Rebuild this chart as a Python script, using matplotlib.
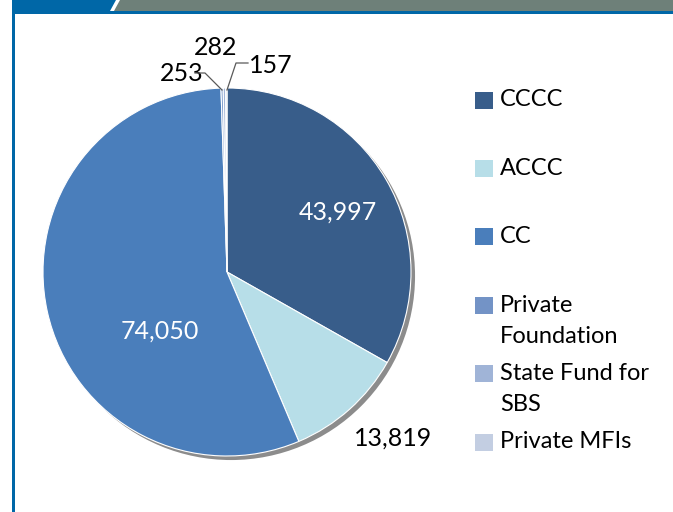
import matplotlib
matplotlib.use("Agg")
import matplotlib.pyplot as plt
from matplotlib.patches import Circle, Rectangle, Polygon
import numpy as np

categories = ["CCCC", "ACCC", "CC", "Private Foundation", "State Fund for SBS", "Private MFIs"]
legend_labels = ["CCCC", "ACCC", "CC", "Private\nFoundation", "State Fund for\nSBS", "Private MFIs"]
values = [43997, 13819, 74050, 253, 282, 157]
colors = ["#385D8A", "#B7DEE8", "#4A7EBB", "#7393C6", "#A0B4D7", "#C3CEE2"]

plt.rcParams['font.family'] = ['Lato', 'DejaVu Sans']

W, H = 673, 512
fig = plt.figure(figsize=(W / 100, H / 100), dpi=100)

# Frame decorations (full-figure axes in pixel coords, y downward)
bg = fig.add_axes([0, 0, 1, 1])
bg.set_xlim(0, W)
bg.set_ylim(H, 0)
bg.axis("off")
blue = "#0067A7"
gray = "#6E8079"
bg.add_patch(Polygon([[120, 0], [W, 0], [W, 11], [114, 11]], closed=True, color=gray, lw=0))
bg.add_patch(Polygon([[12, 0], [116, 0], [110, 11], [12, 11]], closed=True, color=blue, lw=0))
bg.add_patch(Rectangle((12, 11), W - 12, 3, color=blue, lw=0))
bg.add_patch(Rectangle((12, 11), 3, H - 11, color=blue, lw=0))

# Pie
cx, cy, r = 227, 272, 184
m = 1.06
ax = fig.add_axes([(cx - r * m) / W, (H - cy - r * m) / H, 2 * r * m / W, 2 * r * m / H])

ax.add_patch(Circle((0.022, -0.022), 1.0, color="#8C8C8C", lw=0, zorder=0))
wedges, _ = ax.pie(values, colors=colors, startangle=90, counterclock=False, radius=1.0,
                   wedgeprops=dict(edgecolor="white", linewidth=0.8))
for w in wedges:
    w.set_zorder(2)
ax.set_xlim(-m, m)
ax.set_ylim(-m, m)
ax.set_aspect("equal")
ax.axis("off")

fs = 18
ax.text(0.60, 0.325, f"{values[0]:,}", color="white", fontsize=fs, ha="center", va="center", zorder=5)
ax.text(-0.365, -0.32, f"{values[2]:,}", color="white", fontsize=fs, ha="center", va="center", zorder=5)
ax.text(0.90, -0.90, f"{values[1]:,}", color="black", fontsize=fs, ha="center", va="center", zorder=5)

# small slices labels with leader lines
ax.text(-0.245, 1.08, f"{values[3]:,}", color="black", fontsize=fs, ha="center", va="center", clip_on=False)
ax.text(-0.06, 1.22, f"{values[4]:,}", color="black", fontsize=fs, ha="center", va="center", clip_on=False)
ax.text(0.24, 1.12, f"{values[5]:,}", color="black", fontsize=fs, ha="center", va="center", clip_on=False)

def px(x, y):
    return ((x - cx) / r, (cy - y) / r)

l1 = [px(195, 73), px(205, 73), px(222, 90)]
l2 = [px(248, 63), px(236, 63), px(227, 90)]
for ln in (l1, l2):
    xs, ys = zip(*ln)
    ax.plot(xs, ys, color="#595959", lw=0.9, zorder=6, clip_on=False)

# Legend
ly0, dy = 100, 68.4
for i, (lab, col) in enumerate(zip(legend_labels, colors)):
    yc = ly0 + i * dy
    bg.add_patch(Rectangle((475, yc - 8.5), 17.5, 17, color=col, lw=0))
    bg.text(500, yc - 10.5, lab, fontsize=17, ha="left", va="top", linespacing=1.6, color="black")

fig.savefig("out.png", dpi=100)
